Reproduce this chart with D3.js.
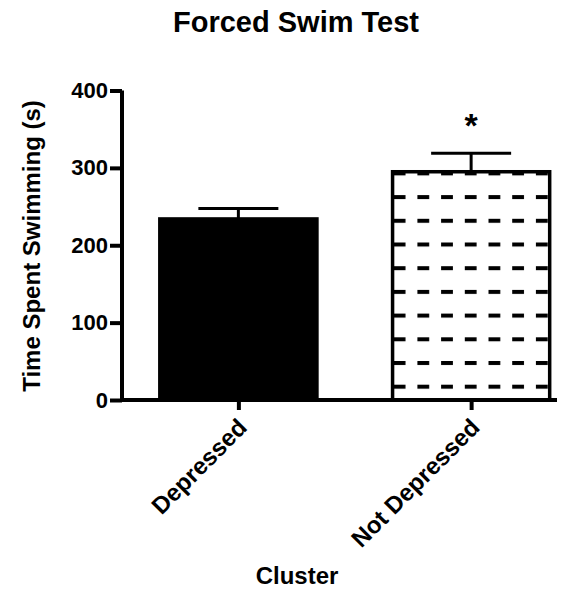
<!DOCTYPE html>
<html>
<head>
<meta charset="utf-8">
<script src="https://cdn.jsdelivr.net/npm/d3@7"></script>
<style>
  body { margin: 0; background: #fff; }
  text { font-family: "Liberation Sans", Arial, sans-serif; font-weight: bold; fill: #000; }
</style>
</head>
<body>
<div id="chart"></div>
<script>
// chart data
var categories = ["Depressed", "Not Depressed"];
var means = [234, 295];
var sems = [13.5, 24];
var yTicks = [0, 100, 200, 300, 400];
var sigMarks = ["", "*"];

var width = 576;
var height = 592;

var svg = d3
  .select("#chart")
  .append("svg")
  .attr("width", width)
  .attr("height", height);

var y = d3.scaleLinear().domain([0, 400]).range([400, 90.5]);
var x = d3.scalePoint().domain(categories).range([122, 587.5]).padding(0.5);
var barWidth = x.step() * 0.675;

// dashed fill for the second bar
var defs = svg.append("defs");
var pat = defs
  .append("pattern")
  .attr("id", "dash")
  .attr("patternUnits", "userSpaceOnUse")
  .attr("x", 393.7)
  .attr("y", 384.7)
  .attr("width", 23.7)
  .attr("height", 23.7);
pat.append("rect").attr("width", 23.7).attr("height", 23.7).attr("fill", "#fff");
pat.append("rect").attr("width", 11.8).attr("height", 4).attr("fill", "#000");

// title
svg
  .append("text")
  .attr("x", 296)
  .attr("y", 31.5)
  .attr("text-anchor", "middle")
  .style("font-size", "29px")
  .text("Forced Swim Test");

// bars
svg
  .selectAll(".bar")
  .data(categories)
  .enter()
  .append("rect")
  .attr("class", "bar")
  .attr("x", (d) => x(d) - barWidth / 2)
  .attr("y", (d, i) => y(means[i]))
  .attr("width", barWidth)
  .attr("height", (d, i) => y(0) - y(means[i]))
  .attr("fill", (d, i) => (i === 0 ? "#000" : "url(#dash)"))
  .attr("stroke", "#000")
  .attr("stroke-width", 3.5);

// error bars
var err = svg
  .selectAll(".err")
  .data(categories)
  .enter()
  .append("g")
  .attr("class", "err");

err
  .append("line")
  .attr("x1", (d) => x(d))
  .attr("x2", (d) => x(d))
  .attr("y1", (d, i) => y(means[i]))
  .attr("y2", (d, i) => y(means[i] + sems[i]))
  .attr("stroke", "#000")
  .attr("stroke-width", 3);

err
  .append("line")
  .attr("x1", (d) => x(d) - 40)
  .attr("x2", (d) => x(d) + 40)
  .attr("y1", (d, i) => y(means[i] + sems[i]))
  .attr("y2", (d, i) => y(means[i] + sems[i]))
  .attr("stroke", "#000")
  .attr("stroke-width", 3);

// significance marks
svg
  .selectAll(".sig")
  .data(categories)
  .enter()
  .append("text")
  .attr("class", "sig")
  .attr("x", (d) => x(d))
  .attr("y", (d, i) => y(means[i] + sems[i]) - 16)
  .attr("text-anchor", "middle")
  .style("font-size", "34px")
  .text((d, i) => sigMarks[i]);

// y axis
var yAxis = d3.axisLeft(y).tickValues(yTicks).tickSize(12).tickPadding(2);
var gy = svg.append("g").attr("transform", "translate(122,0)").call(yAxis);
gy.select(".domain").attr("stroke-width", 4).attr("d", "M0," + y(400) + "V" + (y(0) + 2));
gy.selectAll(".tick line").attr("stroke-width", 4);
gy.selectAll(".tick text").style("font-size", "22px").style("font-family", "Liberation Sans, Arial, sans-serif");

// x axis
var xAxis = d3.axisBottom(x).tickSize(10).tickFormat("");
var gx = svg.append("g").attr("transform", "translate(0," + y(0) + ")").call(xAxis);
gx.select(".domain").attr("stroke-width", 4).attr("d", "M120,0H557");
gx.selectAll(".tick line").attr("stroke-width", 4);

// rotated category labels
svg
  .selectAll(".xlab")
  .data(categories)
  .enter()
  .append("text")
  .attr("class", "xlab")
  .attr("text-anchor", "end")
  .attr("transform", (d) => "translate(" + (x(d) + 10) + ",429) rotate(-45)")
  .style("font-size", "24px")
  .text((d) => d);

// axis titles
svg
  .append("text")
  .attr("transform", "translate(40,246) rotate(-90)")
  .attr("text-anchor", "middle")
  .style("font-size", "24px")
  .text("Time Spent Swimming (s)");

svg
  .append("text")
  .attr("x", 297)
  .attr("y", 584)
  .attr("text-anchor", "middle")
  .style("font-size", "24px")
  .text("Cluster");
</script>
</body>
</html>
